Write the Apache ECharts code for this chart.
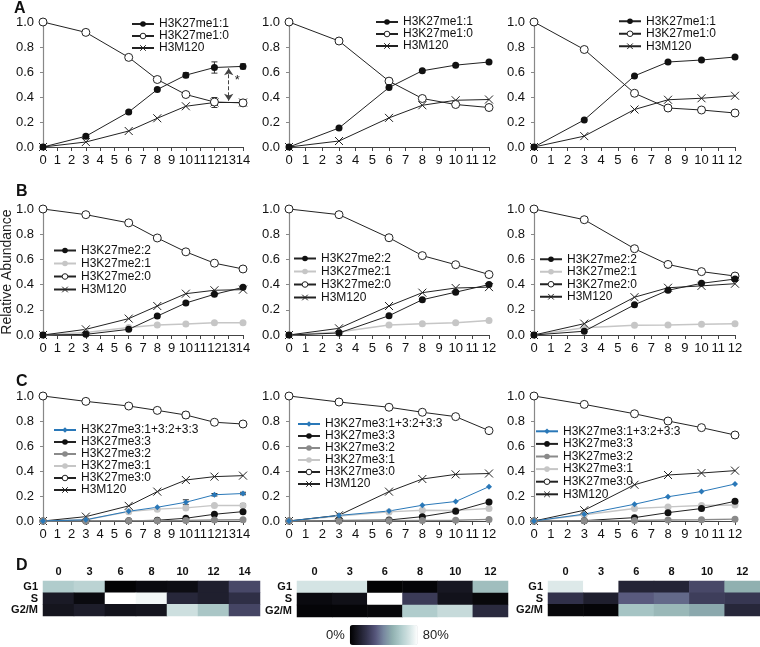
<!DOCTYPE html>
<html><head><meta charset="utf-8">
<script src="https://cdn.jsdelivr.net/npm/echarts@6/dist/echarts.min.js"></script>
<style>html,body{margin:0;padding:0;background:#fff}#c{width:760px;height:647px}</style>
</head><body><div id="c"></div>
<script>
// ---------- data ----------
const hours14 = [0, 3, 6, 8, 10, 12, 14];
const hours12 = [0, 3, 6, 8, 10, 12];
const yTickLabels = ['0.0', '0.2', '0.4', '0.6', '0.8', '1.0'];

// Panel A: H3K27me1
const A1_me1_1 = [0, 0.086, 0.28, 0.46, 0.575, 0.636, 0.645];
const A1_me1_0 = [1.0, 0.917, 0.717, 0.54, 0.42, 0.36, 0.353];
const A1_h3m120 = [0, 0.04, 0.128, 0.23, 0.326, 0.356, 0.356];
const A2_me1_1 = [0, 0.152, 0.476, 0.61, 0.655, 0.68];
const A2_me1_0 = [1.0, 0.848, 0.527, 0.388, 0.34, 0.316];
const A2_h3m120 = [0, 0.048, 0.233, 0.334, 0.374, 0.38];
const A3_me1_1 = [0, 0.217, 0.569, 0.68, 0.696, 0.72];
const A3_me1_0 = [1.0, 0.78, 0.43, 0.312, 0.296, 0.272];
const A3_h3m120 = [0, 0.087, 0.30, 0.378, 0.39, 0.41];
// error bars [x, y, err]
const A1_err_me1_1 = [[3, 0.086, 0.015], [6, 0.28, 0.01], [8, 0.46, 0.01], [10, 0.575, 0.02], [12, 0.636, 0.045], [14, 0.645, 0.02]];
const A1_err_me1_0 = [[3, 0.917, 0.02], [6, 0.717, 0.01], [8, 0.54, 0.01], [10, 0.42, 0.015], [12, 0.36, 0.02], [14, 0.353, 0.025]];
const A1_err_h3m120 = [[12, 0.356, 0.04], [14, 0.356, 0.02]];
// significance annotation
const A1_arrow = { x: 13, from: 0.63, to: 0.37, starX: 13.6, starY: 0.53 };

// Panel B: H3K27me2
const B1_me2_2 = [0, 0.005, 0.045, 0.15, 0.254, 0.323, 0.378];
const B1_me2_1 = [0, 0.02, 0.06, 0.08, 0.087, 0.098, 0.098];
const B1_me2_0 = [1.0, 0.955, 0.89, 0.77, 0.66, 0.57, 0.524];
const B1_h3m120 = [0, 0.045, 0.13, 0.23, 0.328, 0.355, 0.36];
const B2_me2_2 = [0, 0.016, 0.153, 0.28, 0.34, 0.40];
const B2_me2_1 = [0, 0.024, 0.08, 0.09, 0.098, 0.116];
const B2_me2_0 = [1.0, 0.955, 0.772, 0.63, 0.558, 0.48];
const B2_h3m120 = [0, 0.053, 0.23, 0.336, 0.373, 0.38];
const B3_me2_2 = [0, 0.03, 0.24, 0.355, 0.41, 0.444];
const B3_me2_1 = [0, 0.058, 0.077, 0.08, 0.085, 0.09];
const B3_me2_0 = [1.0, 0.915, 0.685, 0.56, 0.503, 0.468];
const B3_h3m120 = [0, 0.09, 0.30, 0.375, 0.39, 0.407];

// Panel C: H3K27me3
const C1_sum = [0, 0.01, 0.078, 0.11, 0.15, 0.21, 0.22];
const C1_me3_3 = [0, 0, 0.002, 0.006, 0.022, 0.054, 0.075];
const C1_me3_2 = [0, 0, 0.002, 0.003, 0.005, 0.008, 0.01];
const C1_me3_1 = [0, 0.01, 0.075, 0.095, 0.105, 0.125, 0.125];
const C1_me3_0 = [1.0, 0.957, 0.92, 0.885, 0.848, 0.79, 0.776];
const C1_h3m120 = [0, 0.035, 0.121, 0.235, 0.328, 0.355, 0.363];
const C1_err_me3_0 = [[8, 0.885, 0.015], [10, 0.848, 0.025], [12, 0.79, 0.01]];
const C1_err_sum = [[10, 0.15, 0.02], [12, 0.21, 0.01], [14, 0.22, 0.01]];
const C1_err_me3_1 = [[14, 0.125, 0.015]];
const C2_sum = [0, 0.045, 0.08, 0.126, 0.156, 0.275];
const C2_me3_3 = [0, 0.005, 0.008, 0.035, 0.078, 0.153];
const C2_me3_2 = [0, 0, 0.002, 0.004, 0.006, 0.013];
const C2_me3_1 = [0, 0.04, 0.073, 0.086, 0.085, 0.10];
const C2_me3_0 = [1.0, 0.952, 0.91, 0.87, 0.835, 0.723];
const C2_h3m120 = [0, 0.046, 0.235, 0.336, 0.373, 0.38];
const C3_sum = [0, 0.055, 0.134, 0.194, 0.236, 0.296];
const C3_me3_3 = [0, 0.003, 0.027, 0.067, 0.10, 0.158];
const C3_me3_2 = [0, 0.002, 0.005, 0.008, 0.01, 0.015];
const C3_me3_1 = [0, 0.05, 0.10, 0.113, 0.124, 0.128];
const C3_me3_0 = [1.0, 0.933, 0.858, 0.80, 0.747, 0.688];
const C3_h3m120 = [0, 0.086, 0.29, 0.368, 0.384, 0.403];

// Panel D: cell-cycle heatmaps (0-80 %)
const phases = ['G1', 'S', 'G2/M'];
const D1_cols = ['0', '3', '6', '8', '10', '12', '14'];
const D1_G1 = [60, 63, 1, 4, 5, 12, 26];
const D1_S = [10, 4, 80, 77, 15, 12, 18];
const D1_G2M = [8, 11, 7, 8, 68, 58, 25];
const D2_cols = ['0', '3', '6', '8', '10', '12'];
const D2_G1 = [70, 70, 1, 2, 9, 55];
const D2_S = [4, 6, 80, 22, 7, 3];
const D2_G2M = [2, 2, 3, 60, 66, 16];
const D3_cols = ['0', '3', '6', '8', '10', '12'];
const D3_G1 = [72, 80, 14, 14, 26, 50];
const D3_S = [19, 12, 31, 34, 23, 21];
const D3_G2M = [3, 2, 57, 53, 48, 15];
const colorbarText = ['80%', '0%'];

// ---------- layout & style ----------
const FONT = '"Liberation Sans", Arial, Helvetica, sans-serif';
const lineGrids = [
  { left: 43, top: 22, width: 200, height: 125 },
  { left: 289, top: 22, width: 200, height: 125 },
  { left: 534, top: 22, width: 201, height: 125 },
  { left: 43, top: 209, width: 200, height: 126 },
  { left: 289, top: 209, width: 200, height: 126 },
  { left: 534, top: 209, width: 201, height: 126 },
  { left: 43, top: 396, width: 200, height: 125 },
  { left: 289, top: 396, width: 200, height: 125 },
  { left: 534, top: 396, width: 201, height: 125 }
];
const heatGrids = [
  { left: 43, top: 581, width: 217, height: 35 },
  { left: 297, top: 581, width: 211, height: 36 },
  { left: 548, top: 581, width: 212, height: 35 }
];
const styles = {
  filled: { symbol: 'circle', symbolSize: 7, itemStyle: { color: '#111' }, lineStyle: { color: '#222', width: 1 } },
  open: { symbol: 'circle', symbolSize: 8, itemStyle: { color: '#fff', borderColor: '#222', borderWidth: 1 }, lineStyle: { color: '#222', width: 1 } },
  cross: { symbol: 'path://M0,0L10,10M10,0L0,10', symbolSize: 8, itemStyle: { color: '#222', borderColor: '#222', borderWidth: 1 }, lineStyle: { color: '#222', width: 1 } },
  light: { symbol: 'circle', symbolSize: 7, itemStyle: { color: '#c6c6c6' }, lineStyle: { color: '#c6c6c6', width: 1.5 } },
  mid: { symbol: 'circle', symbolSize: 7, itemStyle: { color: '#8a8a8a' }, lineStyle: { color: '#8a8a8a', width: 1.5 } },
  blue: { symbol: 'diamond', symbolSize: 6, itemStyle: { color: '#2a78b8' }, lineStyle: { color: '#2a78b8', width: 1 } }
};

const series = [];
function addLine(name, kind, xs, ys, gi, extra) {
  const s = Object.assign({
    type: 'line', name, xAxisIndex: gi, yAxisIndex: gi,
    data: xs.map((x, i) => [x, ys[i]]),
    showSymbol: true, showAllSymbol: true, animation: false, silent: true,
    emphasis: { disabled: true }
  }, JSON.parse(JSON.stringify(styles[kind])));
  Object.assign(s, extra || {});
  series.push(s);
}
function addErr(pts, gi) {
  series.push({
    type: 'custom', xAxisIndex: gi, yAxisIndex: gi, data: pts, silent: true, z: 3,
    encode: { x: 0, y: 1 },
    renderItem(params, api) {
      const x = api.value(0), y = api.value(1), e = api.value(2);
      const t = api.coord([x, y + e]), b = api.coord([x, y - e]); const w = 3;
      const st = { stroke: '#333', lineWidth: 1 };
      return { type: 'group', children: [
        { type: 'line', shape: { x1: t[0], y1: t[1], x2: b[0], y2: b[1] }, style: st },
        { type: 'line', shape: { x1: t[0] - w, y1: t[1], x2: t[0] + w, y2: t[1] }, style: st },
        { type: 'line', shape: { x1: b[0] - w, y1: b[1], x2: b[0] + w, y2: b[1] }, style: st }
      ] };
    }
  });
}

const N1 = ['H3K27me1:1', 'H3K27me1:0', 'H3M120'];
const N2 = ['H3K27me2:2', 'H3K27me2:1', 'H3K27me2:0', 'H3M120'];
const N3 = ['H3K27me3:1+3:2+3:3', 'H3K27me3:3', 'H3K27me3:2', 'H3K27me3:1', 'H3K27me3:0', 'H3M120'];

// Panel A
addErr(A1_err_me1_1, 0); addErr(A1_err_me1_0, 0); addErr(A1_err_h3m120, 0);
addLine(N1[2], 'cross', hours14, A1_h3m120, 0);
addLine(N1[1], 'open', hours14, A1_me1_0, 0);
addLine(N1[0], 'filled', hours14, A1_me1_1, 0, {
  markLine: { silent: true, symbol: ['arrow', 'arrow'], symbolSize: 7, animation: false,
    lineStyle: { type: 'dashed', color: '#444', width: 1 }, label: { show: false },
    data: [[{ coord: [A1_arrow.x, A1_arrow.from] }, { coord: [A1_arrow.x, A1_arrow.to] }]] },
  markPoint: { silent: true, symbol: 'circle', symbolSize: 0, animation: false,
    label: { show: true, formatter: '*', fontSize: 13, color: '#222', fontFamily: FONT },
    data: [{ coord: [A1_arrow.starX, A1_arrow.starY] }] }
});
[[A2_me1_1, A2_me1_0, A2_h3m120, 1], [A3_me1_1, A3_me1_0, A3_h3m120, 2]].forEach(([a, b, c, gi]) => {
  addLine(N1[2], 'cross', hours12, c, gi);
  addLine(N1[1], 'open', hours12, b, gi);
  addLine(N1[0], 'filled', hours12, a, gi);
});
// Panel B
[[B1_me2_2, B1_me2_1, B1_me2_0, B1_h3m120, 3, hours14], [B2_me2_2, B2_me2_1, B2_me2_0, B2_h3m120, 4, hours12],
 [B3_me2_2, B3_me2_1, B3_me2_0, B3_h3m120, 5, hours12]].forEach(([a, b, c, d, gi, xs]) => {
  addLine(N2[1], 'light', xs, b, gi);
  addLine(N2[3], 'cross', xs, d, gi);
  addLine(N2[2], 'open', xs, c, gi);
  addLine(N2[0], 'filled', xs, a, gi);
});
// Panel C
addErr(C1_err_me3_0, 6); addErr(C1_err_sum, 6); addErr(C1_err_me3_1, 6);
[[C1_sum, C1_me3_3, C1_me3_2, C1_me3_1, C1_me3_0, C1_h3m120, 6, hours14],
 [C2_sum, C2_me3_3, C2_me3_2, C2_me3_1, C2_me3_0, C2_h3m120, 7, hours12],
 [C3_sum, C3_me3_3, C3_me3_2, C3_me3_1, C3_me3_0, C3_h3m120, 8, hours12]].forEach(([s, m3, m2, m1, m0, h, gi, xs]) => {
  addLine(N3[3], 'light', xs, m1, gi);
  addLine(N3[5], 'cross', xs, h, gi);
  addLine(N3[4], 'open', xs, m0, gi);
  addLine(N3[1], 'filled', xs, m3, gi);
  addLine(N3[2], 'mid', xs, m2, gi);
  addLine(N3[0], 'blue', xs, s, gi);
});
// Panel D
const heatIdx = [];
[[D1_cols, D1_G1, D1_S, D1_G2M], [D2_cols, D2_G1, D2_S, D2_G2M], [D3_cols, D3_G1, D3_S, D3_G2M]].forEach(([cols, g1, s, g2], j) => {
  const data = [];
  [g1, s, g2].forEach((row, r) => row.forEach((v, c) => data.push([c, r, v])));
  heatIdx.push(series.length);
  series.push({ type: 'heatmap', xAxisIndex: 9 + j, yAxisIndex: 9 + j, data, silent: true, animation: false,
    itemStyle: { borderWidth: 0 }, emphasis: { disabled: true } });
});

// axes
const xAxis = [], yAxis = [];
lineGrids.forEach((g, i) => {
  xAxis.push({ type: 'value', gridIndex: i, min: 0, max: (i % 3 === 0) ? 14 : 12, interval: 1,
    axisLine: { show: true, onZero: false, lineStyle: { color: '#444', width: 1 } },
    axisTick: { show: true, length: 4, lineStyle: { color: '#444' } },
    axisLabel: { fontSize: 13, margin: 7, color: '#111', fontFamily: FONT, hideOverlap: false },
    splitLine: { show: false } });
  yAxis.push({ type: 'value', gridIndex: i, min: 0, max: 1, interval: 0.2,
    axisLine: { show: true, lineStyle: { color: '#888', width: 1.2 } },
    axisTick: { show: true, length: 3, lineStyle: { color: '#888' } },
    axisLabel: { fontSize: 13, margin: 9, color: '#111', fontFamily: FONT, formatter: v => yTickLabels[Math.round(v * 5)] },
    splitLine: { show: false } });
});
[D1_cols, D2_cols, D3_cols].forEach((cols, j) => {
  xAxis.push({ type: 'category', gridIndex: 9 + j, position: 'top', data: cols,
    axisLine: { show: false }, axisTick: { show: false }, splitLine: { show: false },
    axisLabel: { interval: 0, fontSize: 11, fontWeight: 'bold', margin: 4, color: '#111', fontFamily: FONT } });
  yAxis.push({ type: 'category', gridIndex: 9 + j, inverse: true, data: phases,
    axisLine: { show: false }, axisTick: { show: false }, splitLine: { show: false },
    axisLabel: { interval: 0, fontSize: 11, fontWeight: 'bold', margin: 5, color: '#111', fontFamily: FONT } });
});

function legend(names, left, top, lh) {
  return { orient: 'vertical', left, top, padding: 0, itemGap: 0, itemWidth: 22, itemHeight: 7,
    selectedMode: false, data: names,
    itemStyle: { borderWidth: 1 },
    textStyle: { fontSize: 12, lineHeight: lh, color: '#111', fontFamily: FONT } };
}

const option = {
  animation: false,
  textStyle: { fontFamily: FONT },
  grid: lineGrids.concat(heatGrids).map(g => Object.assign({ containLabel: false, outerBoundsMode: 'none' }, g)),
  xAxis, yAxis,
  legend: [
    legend(N1, 131, 18, 11.5), legend(N1, 375, 16, 11.5), legend(N1, 618, 15, 12.5),
    legend(N2, 53, 244, 13), legend(N2, 293, 252, 13), legend(N2, 539, 253, 12.5),
    legend(N3, 53, 424, 12), legend(N3, 297, 418, 12), legend(N3, 535, 425, 12.6)
  ],
  visualMap: {
    type: 'continuous', min: 0, max: 80, seriesIndex: heatIdx, orient: 'horizontal',
    left: 326, top: 625, itemWidth: 20, itemHeight: 68, text: colorbarText, textGap: 5,
    calculable: false, hoverLink: false, padding: 0,
    inRange: { color: ['#000000', '#1a1a26', '#34344e', '#55557a', '#7888a0', '#90b0b0', '#b0cccc', '#d4e4e4', '#ffffff'] },
    textStyle: { fontSize: 13, color: '#222', fontFamily: FONT }
  },
  graphic: [
    { type: 'text', left: 14, top: 1, style: { text: 'A', fontSize: 16, fontWeight: 'bold', fill: '#111', fontFamily: FONT } },
    { type: 'text', left: 16, top: 184, style: { text: 'B', fontSize: 16, fontWeight: 'bold', fill: '#111', fontFamily: FONT } },
    { type: 'text', left: 16, top: 374, style: { text: 'C', fontSize: 16, fontWeight: 'bold', fill: '#111', fontFamily: FONT } },
    { type: 'text', left: 16, top: 558, style: { text: 'D', fontSize: 16, fontWeight: 'bold', fill: '#111', fontFamily: FONT } },
    { type: 'text', x: 7, y: 272, rotation: Math.PI / 2,
      style: { text: 'Relative Abundance', fontSize: 14, fill: '#222', fontFamily: FONT, align: 'center', verticalAlign: 'middle', textAlign: 'center', textVerticalAlign: 'middle' } }
  ],
  series
};
const chart = echarts.init(document.getElementById('c'), null, { renderer: 'canvas' });
chart.setOption(option);
</script>
</body></html>
